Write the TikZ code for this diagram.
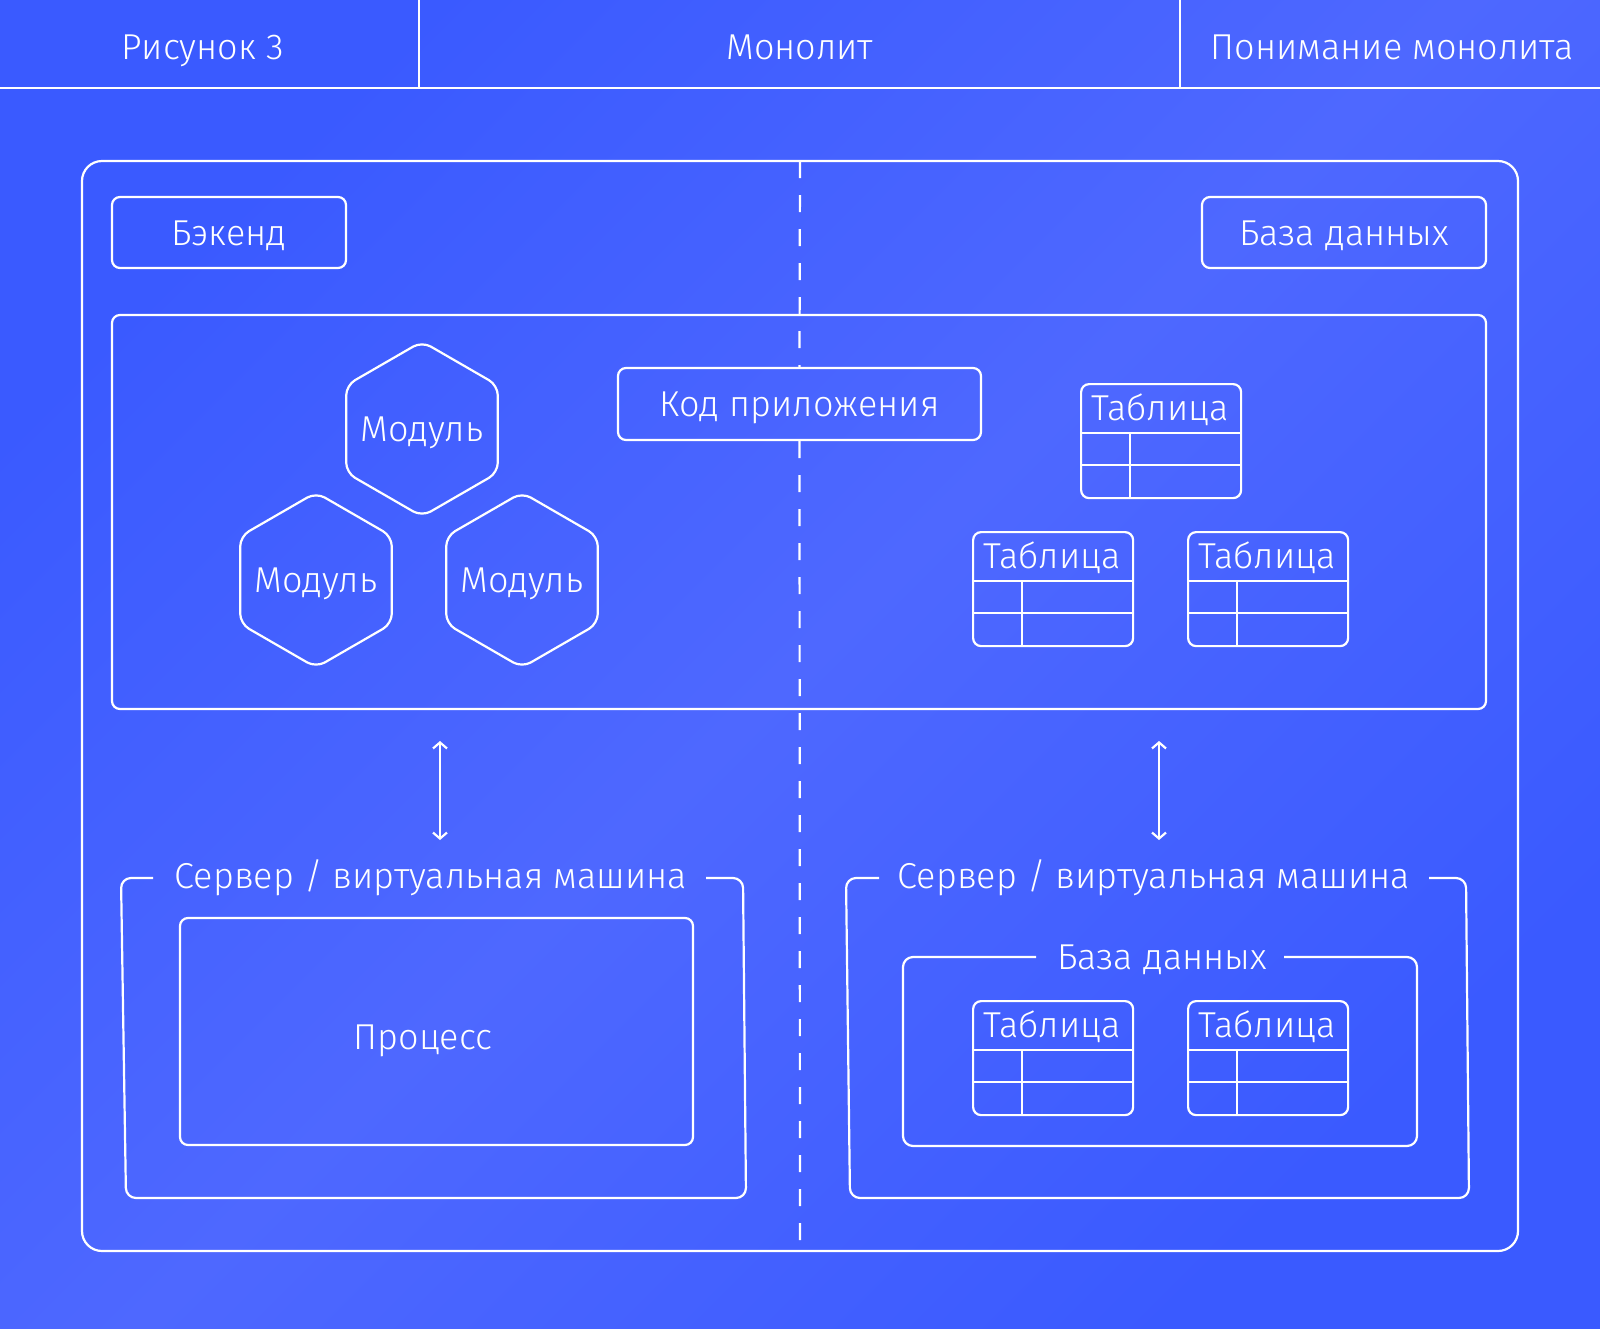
\documentclass[tikz,border=0pt]{standalone}
\usepackage{fontspec}
\setmainfont{Fira Sans Light}
\usetikzlibrary{shapes.geometric,arrows.meta}
\definecolor{bgA}{RGB}{58,90,255}
\definecolor{bgB}{RGB}{78,104,255}
\tikzset{
  ln/.style={draw=white, line width=1.1pt},
  lbl/.style={text=white, font=\fontsize{18}{21}\selectfont, inner sep=0pt, text height=0.69em, text depth=0pt, yshift=-3pt},
  box/.style={ln, rounded corners=4pt, inner sep=0pt},
  hexa/.style={ln, regular polygon, regular polygon sides=6, shape border rotate=30,
     minimum size=87.5pt, inner sep=0pt, rounded corners=5pt},
  dashln/.style={draw=white, line width=1.1pt, dash pattern=on 8.5pt off 8.5pt},
  biarrow/.style={draw=white, line width=1.1pt, {Straight Barb[length=3pt,width=7pt]}-{Straight Barb[length=3pt,width=7pt]}},
}
\newcommand{\dbtab}[3]{%
  \begin{scope}[shift={(#2,#3)}]
    \node[box, anchor=north west, minimum width=80pt, minimum height=57pt] (#1) at (0,0) {};
    \node[lbl] (#1-t) at (80,25) {Таблица};
    \draw[ln] (0,50) -- (160,50) (0,82) -- (160,82) (50,50) -- (50,114);
  \end{scope}}
\begin{document}
\begin{tikzpicture}[x=0.5pt,y=-0.5pt]
  \shade[shading=axis, top color=bgA, bottom color=bgA, middle color=bgB, shading angle=45]
    (0,0) rectangle (1600,1328);
  \useasboundingbox (0,0) rectangle (1600,1328);
  % header
  \draw[ln] (0,88) -- (1600,88) (419,0) -- (419,88) (1180,0) -- (1180,88);
  \node[lbl] (h1) at (203,47) {Рисунок 3};
  \node[lbl] (h2) at (800,47) {Монолит};
  \node[lbl] (h3) at (1392,47) {Понимание монолита};
  % outer frame
  \node[box, rounded corners=10pt, minimum width=718pt, minimum height=545pt] (outer) at (800,706) {};
  % top labels
  \node[box, minimum width=117pt, minimum height=35.5pt] (backend) at (229,232.5) {};
  \node[lbl] at (backend.center) {Бэкенд};
  \node[box, minimum width=142pt, minimum height=35.5pt] (dbtop) at (1344,232.5) {};
  \node[lbl] at (dbtop.center) {База данных};
  % big box
  \node[box, minimum width=687pt, minimum height=197pt] (big) at (799,512) {};
  \node[box, minimum width=181.5pt, minimum height=36pt] (kod) at (799.5,404) {};
  \node[lbl] at (kod.center) {Код приложения};
  % dashed divider
  \coordinate (dtop) at (800,161);
  \coordinate (dbot) at (800,1251);
  \draw[dashln] (dtop) -- (kod.north);
  \draw[dashln] (kod.south) -- (dbot);
  % hexagons
  \node[hexa] (m1) at (422,429) {};
  \node[lbl] at (m1.center) {Модуль};
  \node[hexa] (m2) at (316,580) {};
  \node[lbl] at (m2.center) {Модуль};
  \node[hexa] (m3) at (522,580) {};
  \node[lbl] at (m3.center) {Модуль};
  % tables in big box
  \dbtab{t1}{1080}{383}
  \dbtab{t2}{972}{531}
  \dbtab{t3}{1187}{531}
  % arrows
  \coordinate (a1t) at (440,741);
  \coordinate (a1b) at (440,840);
  \coordinate (a2t) at (1159,741);
  \coordinate (a2b) at (1159,840);
  \draw[biarrow] (a1t) -- (a1b);
  \draw[biarrow] (a2t) -- (a2b);
  % left server
  \node[lbl] (srv1) at (431,876) {Сервер / виртуальная машина};
  \draw[ln, rounded corners=5pt] (153,878) -- (121,878) -- (126,1198) -- (746,1198) -- (743,878) -- (706,878);
  \node[box, minimum width=256.5pt, minimum height=113.5pt] (proc) at (436.5,1031.5) {};
  \node[lbl] at (423,1037) {Процесс};
  % right server
  \node[lbl] (srv2) at (1154,876) {Сервер / виртуальная машина};
  \draw[ln, rounded corners=5pt] (879,878) -- (846,878) -- (850,1198) -- (1469,1198) -- (1466,878) -- (1429,878);
  \node[lbl] (dbin) at (1162,957) {База данных};
  \draw[ln, rounded corners=5pt] (1036,957) -- (903,957) -- (903,1146) -- (1417,1146) -- (1417,957) -- (1284,957);
  \dbtab{t4}{972}{1000}
  \dbtab{t5}{1187}{1000}
\end{tikzpicture}
\end{document}
